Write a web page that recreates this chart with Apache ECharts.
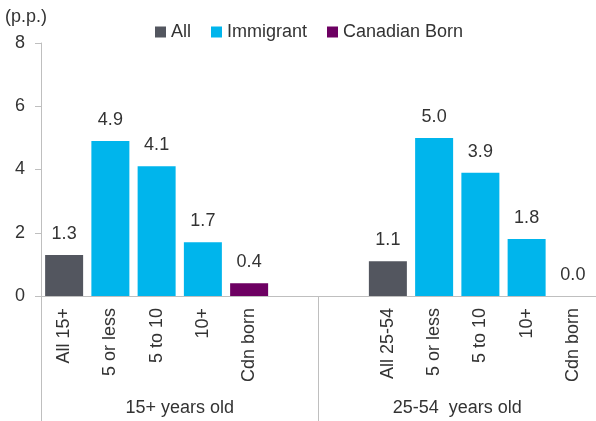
<!DOCTYPE html>
<html>
<head>
<meta charset="utf-8">
<title>Gap by group</title>
<script src="https://cdn.jsdelivr.net/npm/echarts@6/dist/echarts.min.js"></script>
<style>
  html, body { margin: 0; padding: 0; background: #fff; }
  #chart { width: 596px; height: 421px; }
</style>
</head>
<body>
<div id="chart"></div>
<script>
// categories (empty slots separate the two groups)
var categories = ['All 15+', '5 or less', '5 to 10', '10+', 'Cdn born', '', '',
                  'All 25-54', '5 or less', '5 to 10', '10+', 'Cdn born'];
var groupLabels = ['15+ years old', '25-54  years old'];
var yTicks = [0, 2, 4, 6, 8];

// values (p.p.)
var allValues       = [1.3, null, null, null, null, null, null, 1.1, null, null, null, null];
var immigrantValues = [null, 4.9, 4.1, 1.7, null, null, null, null, 5.0, 3.9, 1.8, null];
var cdnBornValues   = [null, null, null, null, 0.4, null, null, null, null, null, null, 0.0];

var textColor = '#333';
var lineColor = '#bfbfbf';
var font = 'Liberation Sans, Arial, sans-serif';

var chart = echarts.init(document.getElementById('chart'));

function barLabel() {
  return {
    show: true,
    position: 'top',
    distance: 12,
    color: textColor,
    fontSize: 18,
    fontFamily: font,
    formatter: function (p) { return p.value == null ? '' : Number(p.value).toFixed(1); }
  };
}

var option = {
  animation: false,
  textStyle: { fontFamily: font },
  title: {
    text: '(p.p.)',
    left: 0,
    top: 3,
    textStyle: { fontSize: 18, fontWeight: 'normal', color: textColor, fontFamily: font }
  },
  legend: {
    left: 150,
    top: 18,
    icon: 'rect',
    itemWidth: 11,
    itemHeight: 11,
    itemGap: 20,
    textStyle: { fontSize: 18, color: textColor, fontFamily: font },
    data: ['All', 'Immigrant', 'Canadian Born']
  },
  grid: { left: 41, top: 43, height: 253, width: 563 },
  xAxis: [
    {
      type: 'category',
      data: categories,
      axisLine: { lineStyle: { color: lineColor } },
      axisTick: { show: false },
      axisLabel: { rotate: 90, margin: 12, color: textColor, fontSize: 18, fontFamily: font, interval: 0 }
    },
    {
      type: 'category',
      data: groupLabels,
      position: 'bottom',
      axisLine: { show: false },
      axisTick: { show: true, length: 125, lineStyle: { color: lineColor } },
      axisLabel: { margin: 103, color: textColor, fontSize: 18, fontFamily: font, interval: 0 }
    }
  ],
  yAxis: {
    type: 'value',
    min: yTicks[0],
    max: yTicks[yTicks.length - 1],
    interval: 2,
    axisLine: { show: true, lineStyle: { color: lineColor } },
    axisTick: { show: true, length: 6, lineStyle: { color: lineColor } },
    splitLine: { show: false },
    axisLabel: { margin: 16, color: textColor, fontSize: 18, fontFamily: font }
  },
  series: [
    { name: 'All', type: 'bar', stack: 'g', barWidth: 38, data: allValues,
      itemStyle: { color: '#53565f' }, label: barLabel() },
    { name: 'Immigrant', type: 'bar', stack: 'g', barWidth: 38, data: immigrantValues,
      itemStyle: { color: '#00b5ec' }, label: barLabel() },
    { name: 'Canadian Born', type: 'bar', stack: 'g', barWidth: 38, data: cdnBornValues,
      itemStyle: { color: '#6d0062' }, label: barLabel() }
  ]
};

chart.setOption(option);
</script>
</body>
</html>
